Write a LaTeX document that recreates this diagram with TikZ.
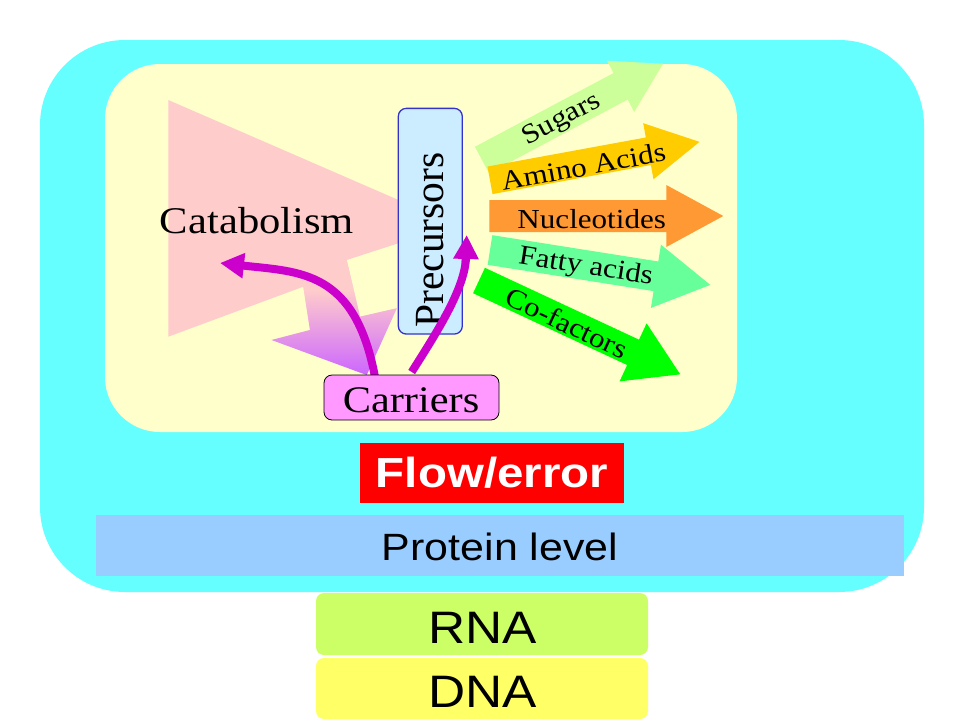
\documentclass[tikz,border=0pt]{standalone}
\usepackage{fontspec}
\setmainfont{Liberation Serif}[FakeStretch=1.13]
\newfontfamily\serifplain{Liberation Serif}
\newfontfamily\sansf{Liberation Sans}[FakeStretch=1.13]
\usetikzlibrary{arrows.meta}
\definecolor{cyanbg}{HTML}{66FFFF}
\definecolor{ylw}{HTML}{FFFFCC}
\definecolor{catpink}{HTML}{FFCCCC}
\definecolor{gpurple}{HTML}{CC66FF}
\definecolor{precfill}{HTML}{CCECFF}
\definecolor{precdraw}{HTML}{3333CC}
\definecolor{carfill}{HTML}{FF99FF}
\definecolor{mag}{HTML}{CC00CC}
\definecolor{sugar}{HTML}{CCFF99}
\definecolor{amino}{HTML}{FFCC00}
\definecolor{nucl}{HTML}{FF9933}
\definecolor{fatty}{HTML}{66FF99}
\definecolor{cofac}{HTML}{00FF00}
\definecolor{flowred}{HTML}{FF0000}
\definecolor{prot}{HTML}{99CCFF}
\definecolor{rnac}{HTML}{CCFF66}
\definecolor{dnac}{HTML}{FFFF66}
\pgfdeclareverticalshading{catgrad}{100bp}{color(0bp)=(gpurple); color(25bp)=(gpurple); color(62bp)=(catpink); color(100bp)=(catpink)}
\newcommand\setfs[1]{\fontsize{#1}{#1}\selectfont}
% #1 x, #2 y, #3 angle, #4 length, #5 shaft half-width, #6 head half-width, #7 head length, #8 colour
\newcommand\drawfatarrow[8]{%
  \begin{scope}[shift={(#1,#2)}, rotate=#3]
    \fill[#8] (0,-#5) -- ({#4-#7},-#5) -- ({#4-#7},-#6) -- (#4,0) -- ({#4-#7},#6) -- ({#4-#7},#5) -- (0,#5) -- cycle;
  \end{scope}}
\begin{document}
\begin{tikzpicture}[x=1pt,y=-1pt,
  lbl/.style={inner sep=0pt, outer sep=0pt},
  magarrow/.style={draw=mag, line width=8pt, -{Triangle[length=24pt,width=24pt]}},
  plainbox/.style={inner sep=0pt, outer sep=0pt}]
\useasboundingbox (0,0) rectangle (960,720);
\fill[white] (0,0) rectangle (960,720);
\fill[cyanbg, rounded corners=85pt] (40,40) rectangle (924,592);
\fill[ylw, rounded corners=55pt] (105,64) rectangle (737,432);
% catabolism shape
\fill[catpink] (168.3,100) -- (410,205) -- (410,239.5) -- (346.7,260) -- (360,316.7) -- (396.7,308.3) -- (366.7,375) -- (271.7,340) -- (310,330) -- (303.3,286.7) -- (168.3,336.7) -- cycle;
\shade[shading=catgrad] (346.7,260) -- (360,316.7) -- (396.7,308.3) -- (366.7,375) -- (271.7,340) -- (310,330) -- (303.3,286.7) -- cycle;
\node[lbl, font=\setfs{37.7}, anchor=base] (catab) at (257,233) {Catabolism};
% product arrows
\drawfatarrow{482}{160}{28}{205}{15}{29}{48}{sugar}
\drawfatarrow{490}{180.3}{10.4}{213}{14}{28.5}{52}{amino}
\drawfatarrow{489.3}{216}{0}{234}{16}{31}{57}{nucl}
\drawfatarrow{490}{250}{-9}{223}{15}{32}{55}{fatty}
\drawfatarrow{479}{280.5}{-25}{222}{14}{32}{52}{cofac}
\node[lbl, font=\setfs{27.5}, rotate=28] (sugars) at (561.7,120) {Sugars};
\node[lbl, font=\setfs{27.5}, rotate=10.4] (aminoacids) at (583.3,166.5) {Amino Acids};
\node[lbl, font=\setfs{27.5}] (nucleotides) at (591.7,219) {Nucleotides};
\node[lbl, font=\setfs{27.5}, rotate=-9] (fattyacids) at (585.7,267.5) {Fatty acids};
\node[lbl, font=\setfs{27.5}, rotate=-25] (cofactors) at (566.7,323) {Co-factors};
% precursors
\node[plainbox, draw=precdraw, fill=precfill, line width=1.3pt, rounded corners=8pt, minimum width=64pt, minimum height=225.7pt] (precbox) at (430.3,221.2) {};
\node[lbl, font={\serifplain\setfs{41.5}}, rotate=90, anchor=base] (prec) at (443.5,240) {Precursors};
% carrier arrows
\coordinate (c1) at (375,377);
\coordinate (catin) at (220,263);
\coordinate (c2) at (411.7,372);
\coordinate (precin) at (466.7,235);
\draw[magarrow] (c1) .. controls (355,270) and (300,272) .. (catin);
\draw[magarrow] (c2) .. controls (433,338) and (465,290) .. (precin);
% carriers
\node[plainbox, draw=black, fill=carfill, line width=0.8pt, rounded corners=8pt, minimum width=175pt, minimum height=45pt] (carbox) at (411.5,397.5) {};
\node[lbl, font=\setfs{37.5}, anchor=base] (carriers) at (411,412) {Carriers};
% flow/error
\node[plainbox, fill=flowred, minimum width=264pt, minimum height=60pt] (flowbox) at (492,473) {};
\node[lbl, font={\sansf\bfseries\setfs{42}}, text=white, anchor=base] (flow) at (492,487) {Flow/error};
% protein level
\node[plainbox, fill=prot, minimum width=808pt, minimum height=61pt] (protbox) at (500,545.5) {};
\node[lbl, font={\sansf\setfs{38}}, anchor=base] (protein) at (500,560) {Protein level};
% RNA / DNA
\node[plainbox, fill=rnac, rounded corners=8pt, minimum width=332pt, minimum height=62pt] (rnabox) at (482,624) {};
\node[lbl, font={\sansf\setfs{45.5}}, anchor=base] (rna) at (483,643) {RNA};
\node[plainbox, fill=dnac, rounded corners=8pt, minimum width=332pt, minimum height=61pt] (dnabox) at (482,688.5) {};
\node[lbl, font={\sansf\setfs{45.5}}, anchor=base] (dna) at (482.5,707) {DNA};
\end{tikzpicture}
\end{document}
